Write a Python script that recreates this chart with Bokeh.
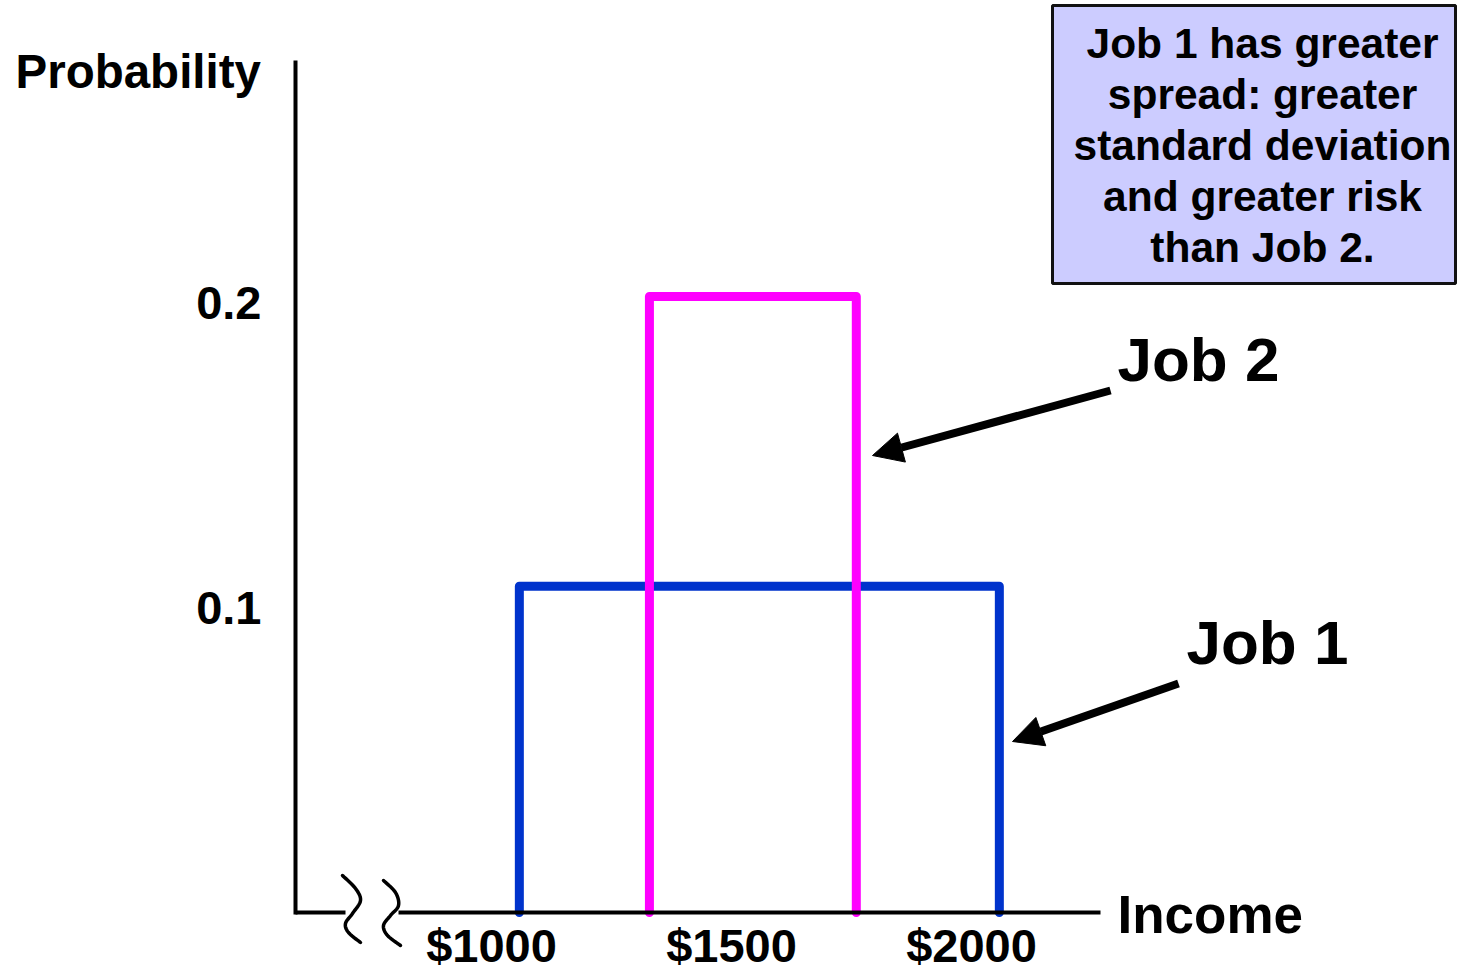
import numpy as np
from bokeh.plotting import figure
from bokeh.models import Range1d, LinearAxis, FixedTicker, Label, Arrow, NormalHead, BoxAnnotation
from bokeh.embed import file_html
from bokeh.resources import INLINE
from bokeh.core.properties import value

# ---------------- data ----------------
income_ticks = [1000, 1500, 2000]
income_tick_labels = ["$1000", "$1500", "$2000"]
prob_ticks = [0.1, 0.2]
prob_tick_labels = ["0.1", "0.2"]
jobs = ["Job 1", "Job 2"]
job_low = [1058, 1329]        # income where the distribution starts
job_high = [2058, 1760]       # income where the distribution ends
job_prob = [0.107, 0.202]     # probability level
job_colors = ["#0033cc", "#ff00ff"]
note_lines = ["Job 1 has greater", "spread: greater", "standard deviation",
              "and greater risk", "than Job 2."]

# ---------------- layout ----------------
W, H = 1457, 970
FONT = "Liberation Sans"
PX_PER_DOLLAR = 0.48
PX_PER_PROB = 3050.0
X0 = 1000 - 491 / PX_PER_DOLLAR   # data x at the left edge
AXIS_PY = 912                     # pixel row of the income axis

x_range = Range1d(X0, X0 + W / PX_PER_DOLLAR)
y_range = Range1d((AXIS_PY - H) / PX_PER_PROB, AXIS_PY / PX_PER_PROB)


def dx(px):  # pixel column -> data x (for annotation placement)
    return X0 + px / PX_PER_DOLLAR


def dy(py):  # pixel row -> data y
    return (AXIS_PY - py) / PX_PER_PROB


p = figure(width=W, height=H, x_range=x_range, y_range=y_range,
           output_backend="svg", toolbar_location=None,
           x_axis_type=None, y_axis_type=None, min_border=0)
p.outline_line_color = None
p.background_fill_color = "white"
p.border_fill_color = "white"

# y axis
yaxis = LinearAxis(fixed_location=dx(295), bounds=(dy(914), dy(60)),
                   ticker=FixedTicker(ticks=prob_ticks),
                   major_label_overrides={t: l for t, l in zip(prob_ticks, prob_tick_labels)})
yaxis.axis_line_width = 4
yaxis.axis_line_color = "black"
yaxis.major_tick_line_color = None
yaxis.minor_tick_line_color = None
yaxis.major_label_text_font = FONT
yaxis.major_label_text_font_style = "bold"
yaxis.major_label_text_font_size = "47px"
yaxis.major_label_text_color = "black"
yaxis.major_label_standoff = 28
p.add_layout(yaxis, "left")

# x axis, left stub before the break
xaxis_a = LinearAxis(fixed_location=0, bounds=(dx(295), dx(345)),
                     ticker=FixedTicker(ticks=[]))
xaxis_a.axis_line_width = 4
xaxis_a.axis_line_color = "black"
xaxis_a.major_tick_line_color = None
xaxis_a.minor_tick_line_color = None
xaxis_a.major_label_text_font_size = "0px"
p.add_layout(xaxis_a, "below")

# x axis after the break
xaxis_b = LinearAxis(fixed_location=0, bounds=(dx(398), dx(1100)),
                     ticker=FixedTicker(ticks=income_ticks),
                     major_label_overrides={t: l for t, l in zip(income_ticks, income_tick_labels)})
xaxis_b.axis_line_width = 4
xaxis_b.axis_line_color = "black"
xaxis_b.major_tick_line_color = None
xaxis_b.minor_tick_line_color = None
xaxis_b.major_label_text_font = FONT
xaxis_b.major_label_text_font_style = "bold"
xaxis_b.major_label_text_font_size = "47px"
xaxis_b.major_label_text_color = "black"
xaxis_b.major_label_standoff = 0
p.add_layout(xaxis_b, "below")


# axis break squiggles
def catmull(pts, n=12):
    pts = np.asarray(pts, dtype=float)
    P = np.vstack([pts[0], pts, pts[-1]])
    out = []
    for i in range(1, len(P) - 2):
        p0, p1, p2, p3 = P[i - 1], P[i], P[i + 1], P[i + 2]
        for t in np.linspace(0, 1, n, endpoint=False):
            t2, t3 = t * t, t * t * t
            out.append(0.5 * ((2 * p1) + (-p0 + p2) * t + (2 * p0 - 5 * p1 + 4 * p2 - p3) * t2
                              + (-p0 + 3 * p1 - 3 * p2 + p3) * t3))
    out.append(pts[-1])
    return np.array(out)


squiggles = [
    [(342, 875), (355, 888), (360, 900), (352, 913), (345, 923), (348, 932), (360, 942)],
    [(383, 880), (395, 892), (398, 905), (390, 915), (383, 925), (387, 935), (400, 945)],
]
for sq in squiggles:
    c = catmull(sq)
    p.line([dx(v) for v in c[:, 0]], [dy(v) for v in c[:, 1]],
           line_width=3.5, line_color="black", line_cap="round", line_join="round")

# distributions (open rectangles)
for lo, hi, pr, col in zip(job_low, job_high, job_prob, job_colors):
    p.line([lo, lo, hi, hi], [0, pr, pr, 0], line_width=9, line_color=col,
           line_cap="round", line_join="round")

# annotation box (drawn beneath the glyph text)
box = BoxAnnotation(left=dx(1052), right=dx(1455), top=dy(5), bottom=dy(283),
                    fill_color="#ccccff", fill_alpha=1.0,
                    line_color="#111111", line_alpha=1.0, line_width=3, level="underlay")
p.add_layout(box)

note_y = [dy(43 + 51 * i) for i in range(len(note_lines))]
p.text(x=[dx(1262)] * len(note_lines), y=note_y, text=note_lines,
       text_font=value(FONT), text_font_style="bold", text_font_size="42.5px",
       text_align="center", text_baseline="alphabetic", text_color="black")


# text labels
def add_label(text, px, py, size, align="left"):
    p.add_layout(Label(x=dx(px), y=dy(py), text=text, text_font=FONT,
                       text_font_style="bold", text_font_size=size,
                       text_align=align, text_baseline="alphabetic",
                       text_color="black"))


add_label("Probability", 15, 71, "47.5px")
add_label("Income", 1117, 914, "53px")
add_label(jobs[1], 1117, 359, "62px")
add_label(jobs[0], 1186, 642, "62px")

# arrows
for (x1, y1, x2, y2) in [(1110, 390, 872, 455), (1178, 683, 1012, 741)]:
    p.add_layout(Arrow(end=NormalHead(size=30, fill_color="black", line_color="black", line_width=1),
                       x_start=dx(x1), y_start=dy(y1), x_end=dx(x2), y_end=dy(y2),
                       line_width=8, line_color="black"))

open("out.html", "w").write(file_html(p, INLINE))
